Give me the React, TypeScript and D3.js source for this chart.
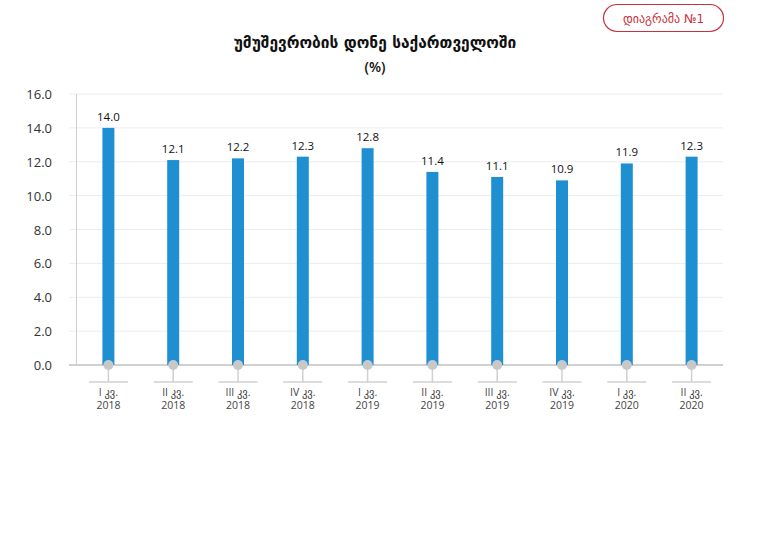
import React from "react";
import * as d3 from "d3";

const categories = ["I კვ.|2018", "II კვ.|2018", "III კვ.|2018", "IV კვ.|2018", "I კვ.|2019", "II კვ.|2019", "III კვ.|2019", "IV კვ.|2019", "I კვ.|2020", "II კვ.|2020"];
const values = [14.0, 12.1, 12.2, 12.3, 12.8, 11.4, 11.1, 10.9, 11.9, 12.3];
const yTicks = [0, 2, 4, 6, 8, 10, 12, 14, 16];
const title = "უმუშევრობის დონე საქართველოში";
const subtitle = "(%)";
const badge = "დიაგრამა №1";

const W = 765, H = 542;
const left = 76, right = 724, top = 94, bottom = 365;

export default function App() {
  const x = d3.scaleBand<string>().domain(categories).range([left, right]).paddingInner(0).paddingOuter(0);
  const y = d3.scaleLinear().domain([0, 16]).range([bottom, top]);
  const bw = 12;
  const font = "'Open Sans', 'DejaVu Sans', sans-serif";
  const gfont = "'DejaVu Sans', sans-serif";
  return (
    <svg width={W} height={H} style={{ position: "absolute", left: 0, top: 0, fontFamily: font }}>
      <rect width={W} height={H} fill="#fff" />
      <rect x={603.5} y={4.5} width={120} height={27} rx={13.5} fill="#fff" stroke="#c8323c" strokeWidth={1.2} />
      <text x={663.5} y={22.5} textAnchor="middle" fontSize={12} fill="#c8323c" fontFamily={gfont}>{badge}</text>
      <text x={375} y={48} textAnchor="middle" fontSize={15.5} fontWeight="bold" fill="#111" fontFamily={gfont}>{title}</text>
      <text x={375} y={72} textAnchor="middle" fontSize={14} fontWeight="600" fill="#111">{subtitle}</text>
      {yTicks.map((t) => (
        <g key={t}>
          <line x1={69} x2={723} y1={y(t)} y2={y(t)} stroke={t === 0 ? "#d0d0d0" : "#ececec"} strokeWidth={t === 0 ? 2 : 1} />
          <text x={52} y={y(t) + 5} textAnchor="end" fontSize={13} fill="#333">{t.toFixed(1)}</text>
        </g>
      ))}
      <line x1={76.5} x2={76.5} y1={top} y2={bottom} stroke="#d0d0d0" strokeWidth={1} />
      {categories.map((c, i) => {
        const cx = (x(c) as number) + x.bandwidth() / 2;
        const [l1, l2] = c.split("|");
        return (
          <g key={c}>
            <rect x={cx - bw / 2} y={y(values[i])} width={bw} height={bottom - y(values[i])} fill="#1e90d2" />
            <text x={cx} y={y(values[i]) - 7} textAnchor="middle" fontSize={11.5} fill="#111">{values[i].toFixed(1)}</text>
            <line x1={cx} x2={cx} y1={bottom} y2={382} stroke="#d0d0d0" strokeWidth={1.5} />
            <line x1={cx - 19.5} x2={cx + 19.5} y1={382} y2={382} stroke="#d0d0d0" strokeWidth={1.5} />
            <circle cx={cx} cy={bottom} r={5} fill="#c8c8c8" />
            <text x={cx} y={396} textAnchor="middle" fontSize={10.5} fill="#444">{l1}</text>
            <text x={cx} y={409} textAnchor="middle" fontSize={10.5} fill="#444">{l2}</text>
          </g>
        );
      })}
    </svg>
  );
}
